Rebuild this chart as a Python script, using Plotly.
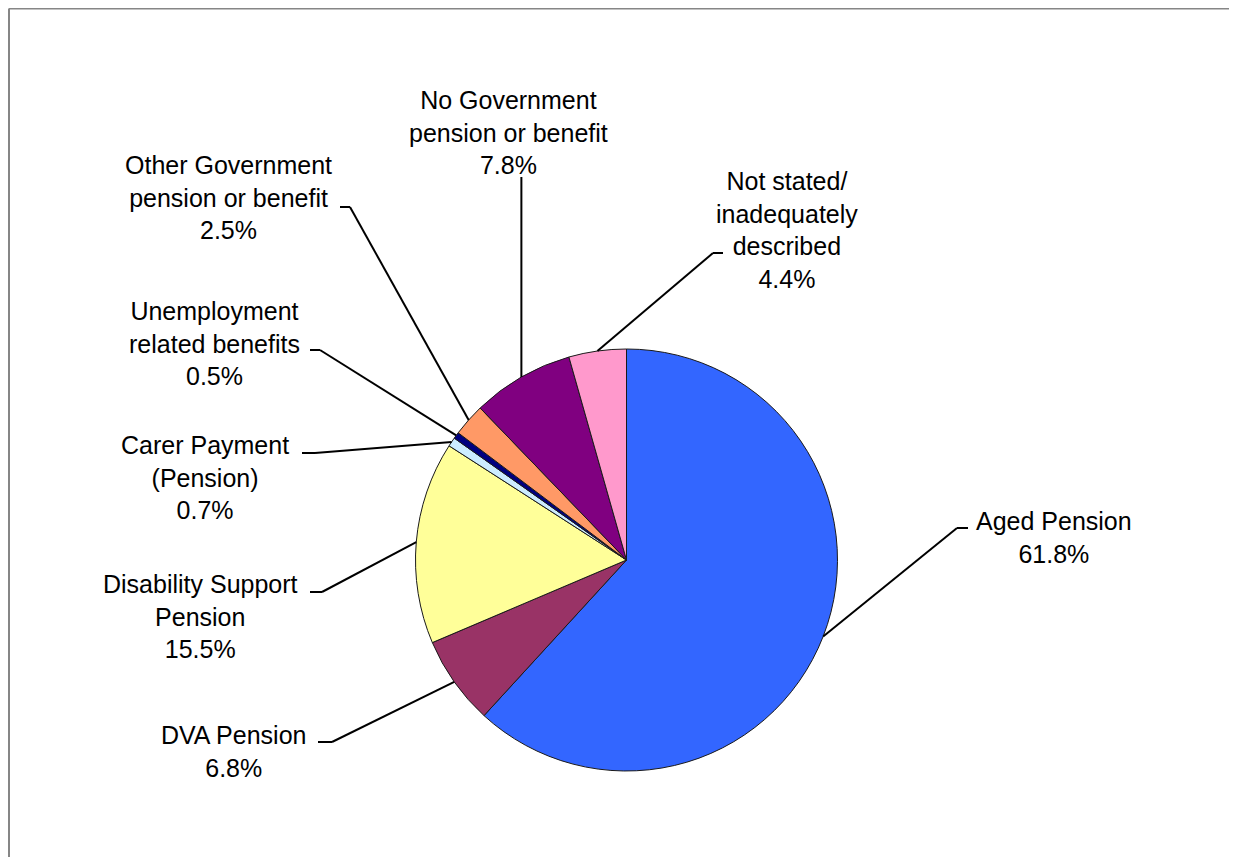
import math
import plotly.graph_objects as go

# ---------------- data ----------------
categories = [
    "Aged Pension",
    "DVA Pension",
    "Disability Support Pension",
    "Carer Payment (Pension)",
    "Unemployment related benefits",
    "Other Government pension or benefit",
    "No Government pension or benefit",
    "Not stated/ inadequately described",
]
label_texts = [
    "Aged Pension",
    "DVA Pension",
    "Disability Support<br>Pension",
    "Carer Payment<br>(Pension)",
    "Unemployment<br>related benefits",
    "Other Government<br>pension or benefit",
    "No Government<br>pension or benefit",
    "Not stated/<br>inadequately<br>described",
]
values = [61.8, 6.8, 15.5, 0.7, 0.5, 2.5, 7.8, 4.4]
colors = ["#3366FF", "#993366", "#FFFF99", "#CCECFF",
          "#000080", "#FF9966", "#800080", "#FF99CC"]

# ---------------- layout (page pixels) ----------------
OFF = 8                              # default page body margin
W, H = 1237 - 2 * OFF, 865 - 2 * OFF  # figure size so the page never scrolls
CX, CY, R = 626.5, 560, 211
# label centre positions
label_pos = [(1054, 537), (233, 751), (200, 616), (205, 477),
             (215, 344), (228, 197), (508, 133), (787, 230)]
# leader elbow and end points
elbows = [(957, 528), (332, 742), (322, 592), (315, 453),
          (320, 350), (350, 207), (None, 177), (713, 253)]
ends = [(968, 528), (318, 742), (310, 592), (302, 453),
        (310, 350), (340, 207), (None, 177), (723, 253)]


def px(x):
    return (x - OFF) / W


def py(y):
    return 1 - (y - OFF) / H


fig = go.Figure()
fig.add_trace(go.Pie(
    labels=categories,
    values=values,
    sort=False,
    direction="clockwise",
    rotation=0,
    textinfo="none",
    hoverinfo="label+percent",
    marker=dict(colors=colors, line=dict(color="#1a1a1a", width=1)),
    domain=dict(x=[px(CX - R), px(CX + R)], y=[py(CY + R), py(CY - R)]),
    showlegend=False,
))

total = sum(values)
shapes = []
annotations = []
cum = 0.0
for i, v in enumerate(values):
    theta = 2 * math.pi * (cum + v / 2) / total
    cum += v
    sx = CX + R * math.sin(theta)
    sy = CY - R * math.cos(theta)
    ex, ey = elbows[i]
    nx, ny = ends[i]
    if ex is None:
        ex = sx
    if nx is None:
        nx = sx
    shapes.append(dict(type="line", xref="paper", yref="paper",
                       x0=px(sx), y0=py(sy), x1=px(ex), y1=py(ey),
                       line=dict(color="black", width=2)))
    if (nx, ny) != (ex, ey):
        shapes.append(dict(type="line", xref="paper", yref="paper",
                           x0=px(ex), y0=py(ey), x1=px(nx), y1=py(ny),
                           line=dict(color="black", width=2)))
    lx, ly = label_pos[i]
    annotations.append(dict(
        x=px(lx), y=py(ly), xref="paper", yref="paper",
        text=f"{label_texts[i]}<br>{v:.1f}%",
        showarrow=False, xanchor="center", yanchor="middle",
        align="center",
        font=dict(family="Liberation Sans, Arial, sans-serif", size=25, color="black"),
    ))

# chart frame: only left and top edges are visible in the reference
frame_line = dict(color="#868686", width=2)
shapes.append(dict(type="line", xref="paper", yref="paper",
                   x0=px(9), y0=0, x1=px(9), y1=py(8.5),
                   line=frame_line, layer="below"))
shapes.append(dict(type="line", xref="paper", yref="paper",
                   x0=px(9), y0=py(8.5), x1=1, y1=py(8.5),
                   line=frame_line, layer="below"))

fig.update_layout(
    width=W, height=H,
    margin=dict(l=0, r=0, t=0, b=0),
    paper_bgcolor="white",
    plot_bgcolor="white",
    shapes=shapes,
    annotations=annotations,
)

fig.write_html("out.html")
